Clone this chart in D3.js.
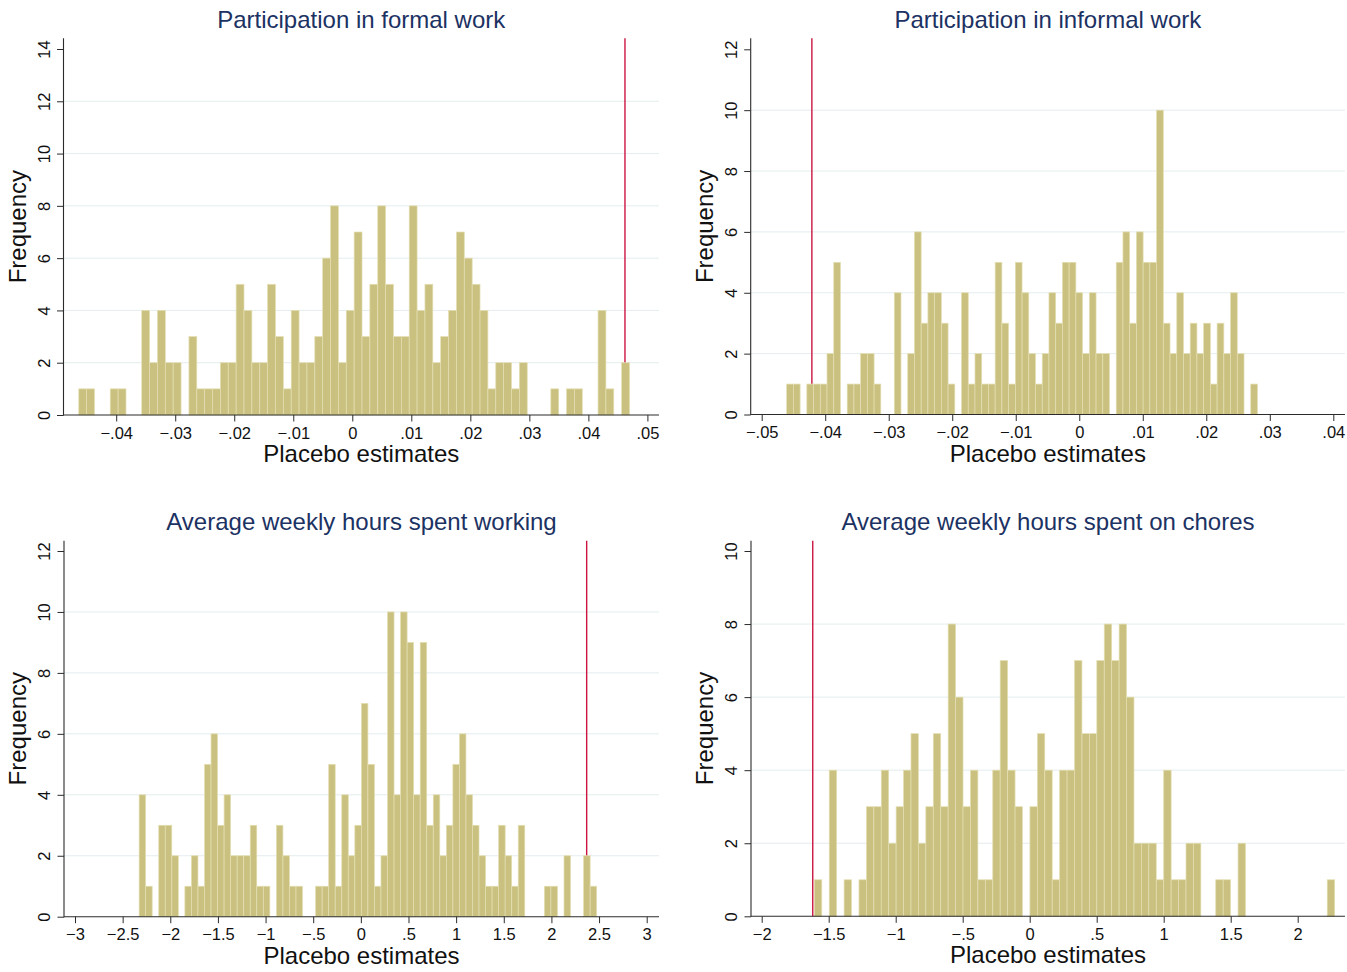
<!DOCTYPE html>
<html>
<head>
<meta charset="utf-8">
<script src="https://cdn.jsdelivr.net/npm/d3@7"></script>
<style>
  html, body { margin: 0; padding: 0; background: #ffffff; }
  svg { display: block; }
  text { font-family: "Liberation Sans", Arial, Helvetica, sans-serif; }
</style>
</head>
<body>
<svg id="chart" width="1347" height="972"></svg>
<script>
// ---- Histogram counts of placebo estimates (70 equal-width bins each) ----
const formalCounts = [
  1,1,0,0,1,1,0,0,4,2,4,2,2,0,3,1,1,1,2,2,5,4,2,2,5,3,1,4,2,2,3,6,8,2,4,
  7,3,5,8,5,3,3,8,4,5,2,3,4,7,6,5,4,1,2,2,1,2,0,0,0,1,0,1,1,0,0,4,1,0,2
];
const informalCounts = [
  1,1,0,1,1,1,2,5,0,1,1,2,2,1,0,0,4,0,2,6,3,4,4,3,1,0,4,1,2,1,1,5,3,1,5,4,2,1,2,
  4,3,5,5,4,2,4,2,2,0,5,6,3,6,5,5,10,3,2,4,2,3,2,3,1,3,2,4,2,0,1
];
const hoursWorkCounts = [
  4,1,0,3,3,2,0,1,2,1,5,6,3,4,2,2,2,3,1,1,0,3,2,1,1,0,0,1,1,5,1,4,2,
  3,7,5,1,2,10,4,10,9,4,9,3,4,2,3,5,6,4,3,2,1,1,3,2,1,3,0,0,0,1,1,0,2,0,0,2,1
];
const choresCounts = [
  1,0,4,0,1,0,1,3,3,4,2,3,4,5,2,3,5,3,8,6,3,4,1,1,4,7,4,3,0,3,5,
  4,1,4,4,7,5,5,7,8,7,8,6,2,2,2,1,4,1,1,2,2,0,0,1,1,0,2,0,0,0,0,0,0,0,0,0,0,0,1
];

// Lower edge of the first bin and bin width
const formalBins    = [-0.04634, 0.001333];
const informalBins  = [-0.04607, 0.001059];
const hoursWorkBins = [-2.327, 0.0686];
const choresBins    = [-1.607, 0.05547];

// Actual (non-placebo) estimates, drawn as vertical reference lines
const formalEstimate    = 0.0462;
const informalEstimate  = -0.0421;
const hoursWorkEstimate = 2.370;
const choresEstimate    = -1.619;

// Tick values
const formalXTicks    = [-0.04, -0.03, -0.02, -0.01, 0, 0.01, 0.02, 0.03, 0.04, 0.05];
const informalXTicks  = [-0.05, -0.04, -0.03, -0.02, -0.01, 0, 0.01, 0.02, 0.03, 0.04];
const hoursWorkXTicks = [-3, -2.5, -2, -1.5, -1, -0.5, 0, 0.5, 1, 1.5, 2, 2.5, 3];
const choresXTicks    = [-2, -1.5, -1, -0.5, 0, 0.5, 1, 1.5, 2];
const formalYTicks    = [0, 2, 4, 6, 8, 10, 12, 14];
const informalYTicks  = [0, 2, 4, 6, 8, 10, 12];
const hoursWorkYTicks = [0, 2, 4, 6, 8, 10, 12];
const choresYTicks    = [0, 2, 4, 6, 8, 10];

const titles = [
  "Participation in formal work",
  "Participation in informal work",
  "Average weekly hours spent working",
  "Average weekly hours spent on chores"
];
const xTitle = "Placebo estimates";
const yTitle = "Frequency";

// ---- Panel geometry (pixels) ----
const layout = [
  { left: 63.5, right: 659,  base: 415,   topTick: 49,    top: 38.3,  xr: [116.2, 647.4], titleY: 28.3 },
  { left: 750.7, right: 1345, base: 414.5, topTick: 49.3,  top: 38.3,  xr: [761.7, 1333.3], titleY: 28.3 },
  { left: 64,   right: 659,  base: 916.7, topTick: 551,   top: 540.7, xr: [75, 646.7],    titleY: 530 },
  { left: 751,  right: 1345, base: 916.3, topTick: 551,   top: 540.7, xr: [761.7, 1297.7], titleY: 530 }
];

const panels = [
  { counts: formalCounts,    bins: formalBins,    est: formalEstimate,    xt: formalXTicks,    yt: formalYTicks },
  { counts: informalCounts,  bins: informalBins,  est: informalEstimate,  xt: informalXTicks,  yt: informalYTicks },
  { counts: hoursWorkCounts, bins: hoursWorkBins, est: hoursWorkEstimate, xt: hoursWorkXTicks, yt: hoursWorkYTicks },
  { counts: choresCounts,    bins: choresBins,    est: choresEstimate,    xt: choresXTicks,    yt: choresYTicks }
];

const COLORS = {
  bar: "#cac180",
  barEdge: "#e4dfb2",
  grid: "#e4edef",
  axis: "#2b2b2b",
  ref: "#cc1442",
  title: "#1c3263",
  text: "#111111"
};

// Stata-style number labels: no leading zero, true minus sign
function stataFmt(v) {
  if (Math.abs(v) < 1e-12) return "0";
  let s = d3.format("~g")(Math.abs(v));
  if (s.startsWith("0.")) s = s.slice(1);
  return (v < 0 ? "\u2212" : "") + s;
}

const svg = d3.select("#chart");
const TICK = 6.5;
const TICK_FONT = "16.5px";

panels.forEach((p, i) => {
  const L = layout[i];
  const g = svg.append("g");

  const x = d3.scaleLinear()
    .domain([p.xt[0], p.xt[p.xt.length - 1]])
    .range(L.xr);
  const yMax = p.yt[p.yt.length - 1];
  const y = d3.scaleLinear().domain([0, yMax]).range([L.base, L.topTick]);

  // gridlines (interior ticks only)
  g.append("g").selectAll("line")
    .data(p.yt.slice(1, -1))
    .join("line")
    .attr("x1", L.left).attr("x2", L.right)
    .attr("y1", d => y(d)).attr("y2", d => y(d))
    .attr("stroke", COLORS.grid).attr("stroke-width", 1);

  // reference line for the actual estimate
  g.append("line")
    .attr("x1", x(p.est)).attr("x2", x(p.est))
    .attr("y1", L.top).attr("y2", L.base)
    .attr("stroke", COLORS.ref).attr("stroke-width", 1.4);

  // histogram bars
  const bars = p.counts.map((c, k) => ({
    x0: p.bins[0] + k * p.bins[1],
    x1: p.bins[0] + (k + 1) * p.bins[1],
    n: c
  })).filter(d => d.n > 0);

  g.append("g").selectAll("rect")
    .data(bars)
    .join("rect")
    .attr("x", d => x(d.x0))
    .attr("width", d => x(d.x1) - x(d.x0))
    .attr("y", d => y(d.n))
    .attr("height", d => y(0) - y(d.n))
    .attr("fill", COLORS.bar)
    .attr("stroke", COLORS.barEdge)
    .attr("stroke-width", 0.7);

  // x axis
  const xAxis = d3.axisBottom(x)
    .tickValues(p.xt)
    .tickFormat(stataFmt)
    .tickSize(TICK)
    .tickSizeOuter(0);
  const gx = g.append("g")
    .attr("transform", `translate(0,${L.base})`)
    .call(xAxis);
  gx.select(".domain").remove();
  gx.selectAll(".tick line").attr("stroke", COLORS.axis).attr("stroke-width", 1);
  gx.selectAll(".tick text")
    .attr("y", 23.5).attr("dy", 0)
    .attr("fill", COLORS.text)
    .style("font-size", TICK_FONT)
    .style("font-family", '"Liberation Sans", Arial, sans-serif');
  g.append("line")
    .attr("x1", L.left).attr("x2", L.right)
    .attr("y1", L.base).attr("y2", L.base)
    .attr("stroke", COLORS.axis).attr("stroke-width", 1.1);

  // y axis
  const yAxis = d3.axisLeft(y)
    .tickValues(p.yt)
    .tickFormat(stataFmt)
    .tickSize(TICK)
    .tickSizeOuter(0);
  const gy = g.append("g")
    .attr("transform", `translate(${L.left},0)`)
    .call(yAxis);
  gy.select(".domain").remove();
  gy.selectAll(".tick line").attr("stroke", COLORS.axis).attr("stroke-width", 1);
  gy.selectAll(".tick text")
    .attr("x", null).attr("dy", null)
    .attr("transform", "translate(-14,0) rotate(-90)")
    .attr("text-anchor", "middle")
    .attr("fill", COLORS.text)
    .style("font-size", TICK_FONT)
    .style("font-family", '"Liberation Sans", Arial, sans-serif');
  g.append("line")
    .attr("x1", L.left).attr("x2", L.left)
    .attr("y1", L.top).attr("y2", L.base + 0.5)
    .attr("stroke", COLORS.axis).attr("stroke-width", 1.1);

  // titles
  const cx = (L.left + L.right) / 2;
  g.append("text")
    .attr("x", cx).attr("y", L.titleY)
    .attr("text-anchor", "middle")
    .attr("fill", COLORS.title)
    .style("font-size", "24px")
    .text(titles[i]);

  g.append("text")
    .attr("x", cx).attr("y", L.base + 47)
    .attr("text-anchor", "middle")
    .attr("fill", COLORS.text)
    .style("font-size", "24px")
    .text(xTitle);

  g.append("text")
    .attr("transform", `translate(${L.left - 38},${(L.top + L.base) / 2}) rotate(-90)`)
    .attr("text-anchor", "middle")
    .attr("fill", COLORS.text)
    .style("font-size", "24px")
    .text(yTitle);
});
</script>
</body>
</html>
